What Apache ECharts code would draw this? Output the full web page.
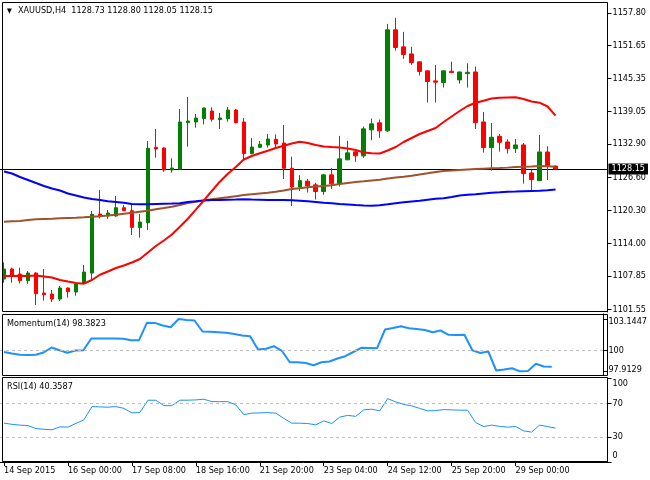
<!DOCTYPE html>
<html><head><meta charset="utf-8">
<script src="https://cdn.jsdelivr.net/npm/echarts@6/dist/echarts.min.js"></script>
<style>html,body{margin:0;padding:0;background:#fff;}#c{width:650px;height:480px;}</style>
</head><body><div id="c"></div>
<script>
const symbol = 'XAUUSD,H4';
const categories = ['14 Sep 16:00','14 Sep 20:00','15 Sep 00:00','15 Sep 04:00','15 Sep 08:00','15 Sep 12:00','15 Sep 16:00','15 Sep 20:00',
'16 Sep 00:00','16 Sep 04:00','16 Sep 08:00','16 Sep 12:00','16 Sep 16:00','16 Sep 20:00','17 Sep 00:00','17 Sep 04:00',
'17 Sep 08:00','17 Sep 12:00','17 Sep 16:00','17 Sep 20:00','18 Sep 00:00','18 Sep 04:00','18 Sep 08:00','18 Sep 12:00',
'18 Sep 16:00','18 Sep 20:00','20 Sep 20:00','21 Sep 00:00','21 Sep 04:00','21 Sep 08:00','21 Sep 12:00','21 Sep 16:00',
'21 Sep 20:00','22 Sep 00:00','22 Sep 04:00','22 Sep 08:00','22 Sep 12:00','22 Sep 16:00','22 Sep 20:00','23 Sep 00:00',
'23 Sep 04:00','23 Sep 08:00','23 Sep 12:00','23 Sep 16:00','23 Sep 20:00','24 Sep 00:00','24 Sep 04:00','24 Sep 08:00',
'24 Sep 12:00','24 Sep 16:00','24 Sep 20:00','25 Sep 00:00','25 Sep 04:00','25 Sep 08:00','25 Sep 12:00','25 Sep 16:00',
'25 Sep 20:00','27 Sep 20:00','28 Sep 00:00','28 Sep 04:00','28 Sep 08:00','28 Sep 12:00','28 Sep 16:00','28 Sep 20:00',
'29 Sep 00:00','29 Sep 04:00','29 Sep 08:00','29 Sep 12:00','29 Sep 16:00','29 Sep 20:00'];
const firstLabel = '14 Sep 2015';
const labelIndexes = [0,8,16,24,32,40,48,56,64];

const opens = [1107.30,1109.20,1108.25,1106.99,1108.44,1104.65,1104.46,1103.51,1105.60,1104.84,
1106.48,1108.44,1119.63,1119.25,1119.25,1120.83,1120.26,1117.04,1117.99,1132.28,
1132.15,1127.98,1128.11,1136.96,1137.08,1137.72,1139.17,1137.53,1137.72,1139.36,
1137.08,1131.08,1132.28,1132.72,1133.80,1133.10,1128.30,1124.76,1125.86,1125.16,
1123.90,1127.06,1125.35,1129.90,1131.42,1130.66,1135.59,1136.92,1135.40,1154.56,
1151.33,1150.00,1148.49,1146.78,1144.88,1144.57,1146.70,1145.06,1146.26,1146.57,
1137.09,1132.22,1134.37,1133.30,1132.03,1132.73,1127.42,1125.96,1131.40,1128.73];
const highs = [1110.47,1109.45,1109.45,1108.82,1108.60,1109.20,1105.22,1105.98,1105.70,1106.40,
1109.96,1120.20,1124.18,1120.39,1123.05,1121.34,1121.34,1119.63,1133.48,1135.76,
1132.28,1130.19,1139.55,1141.83,1138.60,1139.80,1139.87,1138.79,1139.93,1139.55,
1137.84,1134.05,1133.48,1134.81,1134.74,1136.52,1130.51,1127.00,1126.30,1125.54,
1127.25,1128.38,1134.45,1133.50,1131.80,1136.22,1137.74,1137.55,1155.69,1156.83,
1154.18,1151.33,1148.55,1146.85,1147.92,1146.85,1148.53,1146.65,1148.22,1147.59,
1138.99,1136.90,1134.82,1133.80,1133.87,1133.11,1127.99,1134.63,1132.47,1128.80];
const lows = [1106.61,1106.61,1106.48,1106.36,1102.37,1103.20,1102.94,1103.13,1103.77,1104.14,
1106.36,1107.24,1118.81,1118.68,1119.13,1120.20,1115.65,1115.14,1116.60,1130.32,
1127.66,1127.47,1128.00,1132.41,1136.01,1136.64,1137.15,1135.76,1137.15,1136.83,
1129.69,1130.95,1132.15,1132.22,1132.09,1126.27,1121.15,1124.00,1123.71,1122.38,
1123.26,1124.40,1124.84,1129.90,1129.52,1130.28,1133.63,1134.07,1135.21,1150.64,
1149.06,1147.92,1145.90,1140.77,1140.77,1143.62,1146.40,1144.36,1143.60,1135.76,
1131.27,1127.86,1131.46,1131.09,1131.21,1125.40,1124.00,1125.90,1126.09,1128.05];
const closes = [1109.20,1107.94,1106.99,1108.44,1104.52,1104.33,1103.51,1105.60,1104.90,1106.36,
1108.63,1119.57,1119.25,1119.82,1120.83,1120.26,1117.10,1118.11,1132.09,1131.96,
1127.98,1128.36,1137.08,1137.27,1137.84,1139.74,1137.59,1137.84,1139.36,1136.96,
1131.08,1132.34,1132.85,1133.86,1132.91,1128.30,1124.76,1125.96,1124.97,1123.90,
1127.06,1125.35,1130.09,1131.23,1130.66,1135.78,1136.73,1135.40,1154.56,1151.21,
1149.88,1148.36,1146.66,1144.76,1144.63,1146.78,1146.45,1146.57,1146.51,1136.96,
1132.22,1134.18,1133.23,1132.03,1132.73,1127.29,1126.15,1131.40,1128.81,1128.15];

const maRed = [1107.90,1107.86,1107.92,1107.88,1107.95,1107.80,1107.59,1107.12,1106.83,1106.55,
1106.42,1107.12,1108.12,1108.73,1109.39,1109.87,1110.44,1111.10,1112.33,1113.57,
1114.61,1115.75,1117.23,1118.74,1120.45,1122.20,1124.00,1125.76,1127.28,1128.55,
1129.97,1130.64,1131.15,1131.64,1132.15,1132.59,1133.01,1133.35,1133.10,1132.72,
1132.44,1132.34,1132.25,1132.06,1131.77,1131.30,1131.15,1131.12,1131.68,1132.34,
1133.29,1134.05,1134.81,1135.38,1135.95,1137.08,1138.13,1139.17,1140.12,1140.74,
1141.12,1141.54,1141.69,1141.73,1141.77,1141.45,1140.97,1140.74,1140.02,1138.28];
const maBrown = [1118.17,1118.25,1118.31,1118.50,1118.63,1118.69,1118.74,1118.82,1118.88,1118.93,
1119.01,1119.10,1119.20,1119.35,1119.50,1119.67,1119.86,1120.07,1120.26,1120.55,
1120.77,1121.02,1121.34,1121.72,1121.95,1122.20,1122.42,1122.61,1122.80,1123.01,
1123.22,1123.37,1123.52,1123.67,1123.84,1124.09,1124.38,1124.51,1124.70,1124.85,
1124.95,1125.08,1125.32,1125.51,1125.70,1125.84,1125.99,1126.14,1126.37,1126.54,
1126.71,1126.90,1127.13,1127.36,1127.60,1127.79,1127.87,1127.98,1128.09,1128.17,
1128.24,1128.30,1128.36,1128.43,1128.55,1128.59,1128.66,1128.74,1128.70,1128.61];
const maBlue = [1127.70,1127.32,1126.65,1126.08,1125.51,1124.94,1124.47,1124.09,1123.52,1123.14,
1122.76,1122.48,1122.29,1122.04,1121.91,1121.78,1121.53,1121.47,1121.47,1121.53,
1121.59,1121.63,1121.68,1121.91,1122.04,1122.20,1122.29,1122.31,1122.35,1122.38,
1122.42,1122.38,1122.35,1122.30,1122.29,1122.28,1122.25,1122.16,1122.04,1121.91,
1121.78,1121.66,1121.53,1121.44,1121.34,1121.25,1121.21,1121.29,1121.47,1121.66,
1121.85,1122.01,1122.16,1122.35,1122.54,1122.61,1122.86,1123.14,1123.30,1123.37,
1123.52,1123.66,1123.75,1123.85,1123.90,1123.96,1124.00,1124.03,1124.13,1124.28];

const momentum = [99.85,99.70,99.57,99.56,99.58,99.80,100.30,100.03,99.77,100.00,
100.03,101.20,101.21,101.19,101.20,101.18,101.03,101.02,102.77,102.76,
102.50,102.33,103.1447,103.05,103.00,101.90,101.87,101.83,101.77,101.65,
101.50,101.43,100.10,100.17,100.43,99.97,98.83,98.82,98.75,98.53,
98.83,98.90,99.20,99.43,99.85,100.27,100.25,100.23,102.10,102.25,
102.43,102.23,102.15,102.05,101.83,102.00,101.57,101.56,101.57,100.03,
99.75,99.90,98.00,98.10,98.23,97.9129,97.95,98.67,98.40,98.3823];
const rsi = [46.26,44.84,43.89,43.41,39.85,38.90,38.31,41.87,41.51,46.02,
50.18,65.96,65.61,65.25,65.96,63.83,58.49,58.84,73.56,73.50,
67.15,67.10,73.56,73.60,73.92,74.75,71.90,71.85,71.90,67.98,
56.47,58.13,58.49,58.84,58.13,51.96,46.26,46.20,45.79,44.24,
48.99,45.79,53.38,55.52,54.33,62.05,62.88,60.86,75.46,71.54,
68.58,66.80,63.83,60.86,61.22,62.40,62.05,61.69,61.65,46.97,
42.23,43.89,42.46,41.51,42.23,37.12,35.58,43.89,42.23,40.3587];

const priceTicks = [1101.55,1107.85,1114.00,1120.30,1126.60,1132.90,1139.05,1145.35,1151.65,1157.80];
const momentumLevel = 100;
const rsiLevels = [70, 30];
const rsiTicks = [0, 30, 70, 100];

const FONT = "'DejaVu Sans Condensed','DejaVu Sans',sans-serif";
const FS = 9;
const N = categories.length;
const emptySlots = 6;
const axisCats = categories.concat(new Array(emptySlots).fill(''));
const momMax = Math.max(...momentum), momMin = Math.min(...momentum);
const isLabelIdx = (i) => labelIndexes.indexOf(i) >= 0;

const chart = echarts.init(document.getElementById('c'), null, {renderer: 'canvas'});

const gridCommon = {left: 0, right: 42.5};
const hiddenX = (gi) => ({
  type: 'category', gridIndex: gi, data: axisCats, boundaryGap: true, show: false
});
const yCommon = {
  type: 'value', position: 'right', splitLine: {show: false},
  axisLine: {show: true, lineStyle: {color: '#000', width: 1}},
  axisTick: {show: true, inside: false, length: 4, lineStyle: {color: '#000'}},
  axisLabel: {color: '#000', fontFamily: FONT, fontSize: FS, margin: 5}
};
const dashed = {color: '#C0C0C0', width: 1, type: [3, 3]};

chart.setOption({
  animation: false,
  backgroundColor: '#fff',
  grid: [
    Object.assign({top: 3, height: 309}, gridCommon),
    Object.assign({top: 314, height: 61}, gridCommon),
    Object.assign({top: 378, height: 84}, gridCommon)
  ],
  xAxis: [
    hiddenX(0), hiddenX(1),
    {
      type: 'category', gridIndex: 2, data: axisCats, boundaryGap: true,
      axisLine: {show: true, lineStyle: {color: '#000'}},
      axisTick: {show: true, alignWithLabel: true, length: 4, interval: (i) => isLabelIdx(i), lineStyle: {color: '#000'}},
      axisLabel: {
        interval: (i) => isLabelIdx(i), align: 'left', margin: 4,
        color: '#000', fontFamily: FONT, fontSize: FS,
        formatter: (v, i) => i === 0 ? firstLabel : v
      },
      splitLine: {show: false}
    }
  ],
  yAxis: [
    Object.assign({}, yCommon, {
      gridIndex: 0, min: 1101.05, max: 1159.65,
      axisTick: Object.assign({}, yCommon.axisTick, {customValues: priceTicks}),
      axisLabel: Object.assign({}, yCommon.axisLabel, {customValues: priceTicks, formatter: (v) => v.toFixed(2)})
    }),
    Object.assign({}, yCommon, {
      gridIndex: 1, min: 97.55, max: 103.65,
      axisTick: Object.assign({}, yCommon.axisTick, {customValues: [momMin, momentumLevel, momMax]}),
      axisLabel: Object.assign({}, yCommon.axisLabel, {
        customValues: [momMin, momentumLevel, momMax],
        formatter: (v) => v === momentumLevel ? '' + momentumLevel : (v === momMax ? '{t|' + v.toFixed(4) + '}' : '{b|' + v.toFixed(4) + '}'),
        rich: {
          t: {fontFamily: FONT, fontSize: FS, color: '#000', padding: [6, 0, 0, 0]},
          b: {fontFamily: FONT, fontSize: FS, color: '#000', padding: [0, 0, 4, 0]}
        }
      })
    }),
    Object.assign({}, yCommon, {
      gridIndex: 2, min: 0, max: 100,
      axisTick: Object.assign({}, yCommon.axisTick, {customValues: rsiTicks}),
      axisLabel: Object.assign({}, yCommon.axisLabel, {
        customValues: rsiTicks,
        formatter: (v) => v === 100 ? '{t|100}' : (v === 0 ? '{b|0}' : '' + v),
        rich: {
          t: {fontFamily: FONT, fontSize: FS, color: '#000', padding: [12, 0, 0, 0]},
          b: {fontFamily: FONT, fontSize: FS, color: '#000', padding: [0, 0, 13, 0]}
        }
      })
    })
  ],
  series: [
    {
      type: 'candlestick', xAxisIndex: 0, yAxisIndex: 0, barWidth: 4, z: 2,
      data: opens.map((o, i) => [o, closes[i], lows[i], highs[i]]),
      itemStyle: {color: '#008000', color0: '#FF0000', borderColor: '#008000', borderColor0: '#FF0000', borderWidth: 1},
      markLine: {
        silent: true, symbol: ['none', 'none'], z: 1,
        lineStyle: {color: '#000', width: 1, type: 'solid'},
        label: {
          show: true, position: 'end', distance: 1,
          formatter: closes[N - 1].toFixed(2),
          backgroundColor: '#000', color: '#fff', fontFamily: FONT, fontSize: FS,
          padding: [1, 3, 0, 3], lineHeight: 10
        },
        data: [{yAxis: closes[N - 1]}]
      }
    },
    {type: 'line', xAxisIndex: 0, yAxisIndex: 0, data: maBrown, showSymbol: false, z: 3,
      lineStyle: {color: '#A0522D', width: 2}},
    {type: 'line', xAxisIndex: 0, yAxisIndex: 0, data: maBlue, showSymbol: false, z: 3,
      lineStyle: {color: '#0000FF', width: 2}},
    {type: 'line', xAxisIndex: 0, yAxisIndex: 0, data: maRed, showSymbol: false, z: 3,
      lineStyle: {color: '#FF0000', width: 2}},
    {
      type: 'line', xAxisIndex: 1, yAxisIndex: 1, data: momentum, showSymbol: false, z: 3,
      lineStyle: {color: '#1E90FF', width: 2},
      markLine: {silent: true, symbol: ['none', 'none'], label: {show: false}, lineStyle: dashed,
        data: [{yAxis: momentumLevel}]}
    },
    {
      type: 'line', xAxisIndex: 2, yAxisIndex: 2, data: rsi, showSymbol: false, z: 3,
      lineStyle: {color: '#1E90FF', width: 1},
      markLine: {silent: true, symbol: ['none', 'none'], label: {show: false}, lineStyle: dashed,
        data: rsiLevels.map((v) => ({yAxis: v}))}
    }
  ],
  graphic: [
    {type: 'rect', silent: true, z: 100, shape: {x: 2.5, y: 2.5, width: 605, height: 309}, style: {fill: null, stroke: '#000', lineWidth: 1}},
    {type: 'rect', silent: true, z: 100, shape: {x: 2.5, y: 314.5, width: 605, height: 61}, style: {fill: null, stroke: '#000', lineWidth: 1}},
    {type: 'rect', silent: true, z: 100, shape: {x: 2.5, y: 377.5, width: 605, height: 84}, style: {fill: null, stroke: '#000', lineWidth: 1}},
    {type: 'text', silent: true, z: 101, x: 7, y: 11, style: {text: '\u25BC', fill: '#000', fontFamily: FONT, fontSize: 7, verticalAlign: 'middle'}},
    {type: 'text', silent: true, z: 101, x: 18, y: 11, style: {
      text: symbol + '  ' + opens[N - 1].toFixed(2) + ' ' + highs[N - 1].toFixed(2) + ' ' + lows[N - 1].toFixed(2) + ' ' + closes[N - 1].toFixed(2),
      fill: '#000', fontFamily: FONT, fontSize: FS, verticalAlign: 'middle'}},
    {type: 'text', silent: true, z: 101, x: 7, y: 324, style: {
      text: 'Momentum(14) ' + momentum[N - 1].toFixed(4), fill: '#000', fontFamily: FONT, fontSize: FS, verticalAlign: 'middle'}},
    {type: 'text', silent: true, z: 101, x: 7, y: 386.5, style: {
      text: 'RSI(14) ' + rsi[N - 1].toFixed(4), fill: '#000', fontFamily: FONT, fontSize: FS, verticalAlign: 'middle'}}
  ]
});
</script></body></html>
